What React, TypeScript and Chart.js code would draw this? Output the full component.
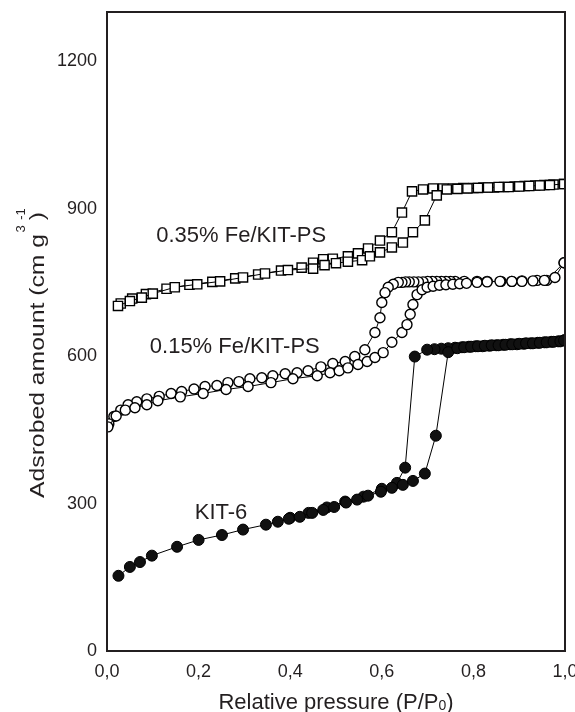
import React, { useEffect, useRef } from "react";
import { Chart, registerables } from "chart.js";

Chart.register(...registerables);

// KIT-6 (filled circles)
const kit6AdsX = [0.025, 0.05, 0.072, 0.098, 0.153, 0.2, 0.251, 0.297, 0.347, 0.373, 0.397, 0.421, 0.448, 0.472, 0.496, 0.522, 0.546, 0.57, 0.598, 0.622, 0.646, 0.668, 0.694, 0.718, 0.745, 0.765, 0.78, 0.795, 0.81, 0.825, 0.84, 0.855, 0.87, 0.885, 0.9, 0.915, 0.93, 0.945, 0.96, 0.975, 0.99, 0.998];
const kit6AdsY = [153, 171, 181, 194, 212, 226, 236, 247, 257, 263, 269, 273, 281, 287, 293, 302, 308, 316, 324, 332, 338, 346, 361, 438, 608, 616, 618, 619, 620, 621, 622, 622, 623, 624, 625, 626, 626, 627, 628, 629, 630, 632];
const kit6DesX = [0.998, 0.985, 0.97, 0.955, 0.94, 0.925, 0.91, 0.895, 0.88, 0.865, 0.85, 0.835, 0.82, 0.805, 0.79, 0.775, 0.76, 0.745, 0.73, 0.715, 0.699, 0.672, 0.651, 0.633, 0.6, 0.56, 0.52, 0.48, 0.44, 0.4];
const kit6DesY = [632, 630, 629, 628, 627, 626, 625, 624, 624, 623, 622, 621, 620, 620, 619, 618, 617, 616, 615, 614, 613, 599, 373, 342, 330, 314, 304, 292, 281, 271];

// 0.15% Fe/KIT-PS (open circles)
const fe15AdsX = [0.002, 0.02, 0.04, 0.061, 0.087, 0.111, 0.16, 0.21, 0.26, 0.308, 0.358, 0.406, 0.459, 0.487, 0.507, 0.526, 0.548, 0.568, 0.585, 0.603, 0.622, 0.644, 0.655, 0.662, 0.668, 0.677, 0.688, 0.699, 0.712, 0.726, 0.74, 0.755, 0.77, 0.785, 0.808, 0.83, 0.858, 0.884, 0.906, 0.93, 0.955, 0.978, 0.998];
const fe15AdsY = [456, 478, 490, 495, 501, 509, 517, 524, 532, 538, 546, 554, 560, 566, 570, 576, 583, 589, 597, 607, 628, 648, 664, 685, 705, 725, 735, 740, 742, 744, 745, 746, 747, 748, 750, 751, 752, 752, 752, 753, 754, 760, 790];
const fe15DesX = [0.998, 0.96, 0.939, 0.906, 0.884, 0.86, 0.83, 0.808, 0.78, 0.76, 0.75, 0.74, 0.73, 0.72, 0.71, 0.7, 0.69, 0.68, 0.67, 0.66, 0.652, 0.644, 0.636, 0.625, 0.614, 0.607, 0.6, 0.596, 0.585, 0.563, 0.541, 0.52, 0.493, 0.467, 0.439, 0.415, 0.389, 0.362, 0.338, 0.312, 0.288, 0.264, 0.24, 0.214, 0.19, 0.163, 0.14, 0.114, 0.087, 0.065, 0.046, 0.03, 0.015, 0.004];
const fe15DesY = [790, 754, 754, 753, 752, 752, 752, 752, 752, 752, 752, 752, 752, 752, 752, 752, 751, 751, 751, 751, 751, 750, 750, 746, 740, 729, 709, 678, 648, 613, 599, 589, 585, 578, 570, 566, 564, 560, 556, 554, 548, 546, 540, 538, 533, 528, 524, 518, 513, 507, 501, 490, 477, 462];

// 0.35% Fe/KIT-PS (open squares)
const fe35AdsX = [0.024, 0.05, 0.076, 0.1, 0.148, 0.197, 0.247, 0.297, 0.345, 0.395, 0.45, 0.475, 0.5, 0.526, 0.557, 0.574, 0.596, 0.622, 0.646, 0.668, 0.694, 0.72, 0.742, 0.765, 0.787, 0.81, 0.832, 0.855, 0.877, 0.9, 0.922, 0.945, 0.967, 0.998];
const fe35AdsY = [702, 712, 719, 727, 740, 746, 752, 760, 768, 775, 778, 785, 789, 792, 795, 803, 811, 821, 831, 852, 876, 927, 939, 940, 941, 942, 943, 944, 944, 945, 946, 947, 948, 950];
const fe35DesX = [0.998, 0.975, 0.955, 0.935, 0.912, 0.89, 0.867, 0.845, 0.822, 0.8, 0.778, 0.756, 0.734, 0.712, 0.69, 0.666, 0.644, 0.622, 0.596, 0.57, 0.548, 0.526, 0.493, 0.472, 0.45, 0.425, 0.38, 0.33, 0.28, 0.23, 0.18, 0.13, 0.085, 0.055, 0.03];
const fe35DesY = [950, 949, 948, 947, 946, 945, 944, 943, 943, 942, 942, 941, 941, 941, 939, 935, 892, 852, 835, 819, 809, 803, 798, 797, 790, 780, 774, 766, 758, 751, 745, 737, 726, 717, 707];

const xTicks = [0, 0.2, 0.4, 0.6, 0.8, 1.0];
const yTicks = [0, 300, 600, 900, 1200];

const seriesLabels = ["0.35% Fe/KIT-PS", "0.15% Fe/KIT-PS", "KIT-6"];
const labelX = [0.293, 0.279, 0.249];
const labelY = [845, 619, 281];

const FONT = "'Liberation Sans', Arial, Helvetica, sans-serif";
const INK = "#231f20";

const pts = (xs: number[], ys: number[]) => xs.map((x, i) => ({ x, y: ys[i] }));

const overlay = {
  id: "overlay",
  afterDraw(chart: any) {
    const ctx = chart.ctx as CanvasRenderingContext2D;
    const a = chart.chartArea;
    const xs = chart.scales.x;
    const ys = chart.scales.y;
    ctx.save();
    // frame
    ctx.strokeStyle = INK;
    ctx.lineWidth = 2;
    ctx.strokeRect(a.left, a.top, a.right - a.left, a.bottom - a.top);

    // series labels
    ctx.fillStyle = INK;
    ctx.font = `22px ${FONT}`;
    ctx.textAlign = "center";
    ctx.textBaseline = "middle";
    seriesLabels.forEach((t, i) => {
      ctx.fillText(t, xs.getPixelForValue(labelX[i]), ys.getPixelForValue(labelY[i]));
    });

    // x title
    const cx = (a.left + a.right) / 2;
    const base = 709;
    ctx.textBaseline = "alphabetic";
    ctx.textAlign = "left";
    ctx.font = `22px ${FONT}`;
    const p1 = "Relative pressure (P/P";
    const p3 = ")";
    const w1 = ctx.measureText(p1).width;
    const w3 = ctx.measureText(p3).width;
    ctx.font = `14px ${FONT}`;
    const w2 = ctx.measureText("0").width;
    const total = w1 + w2 + w3;
    const sx = cx - total / 2;
    ctx.font = `22px ${FONT}`;
    ctx.fillText(p1, sx, base);
    ctx.font = `14px ${FONT}`;
    ctx.fillText("0", sx + w1, base + 1);
    ctx.font = `22px ${FONT}`;
    ctx.fillText(p3, sx + w1 + w2, base);

    // y title (rotated)
    const yStart = 498;
    const yEnd = 212;
    ctx.save();
    ctx.translate(44, yStart);
    ctx.rotate(-Math.PI / 2);
    ctx.font = `21px ${FONT}`;
    const main = "Adsrobed amount (cm g  )";
    const mw = ctx.measureText(main).width;
    const scaleF = (yStart - yEnd) / mw;
    ctx.save();
    ctx.scale(scaleF, 1);
    ctx.fillText(main, 0, 0);
    ctx.restore();
    ctx.font = `13px ${FONT}`;
    ctx.textAlign = "center";
    ctx.fillText("3", yStart - 229, -19);
    ctx.fillText("-1", yStart - 214, -19);
    ctx.restore();

    ctx.restore();
  },
};

export default function App() {
  const ref = useRef<HTMLCanvasElement | null>(null);
  useEffect(() => {
    if (!ref.current) return;
    const common = { showLine: true, borderColor: "#000", borderWidth: 1, pointBorderColor: "#000" };
    const chart = new Chart(ref.current, {
      type: "scatter",
      data: {
        datasets: [
          { ...common, label: "0.35% ads", data: pts(fe35AdsX, fe35AdsY), pointStyle: "rect", pointRadius: 6.5, pointBackgroundColor: "#fff", pointBorderWidth: 1.4 },
          { ...common, label: "0.35% des", data: pts(fe35DesX, fe35DesY), pointStyle: "rect", pointRadius: 6.5, pointBackgroundColor: "#fff", pointBorderWidth: 1.4 },
          { ...common, label: "0.15% ads", data: pts(fe15AdsX, fe15AdsY), pointStyle: "circle", pointRadius: 5, pointBackgroundColor: "#fff", pointBorderWidth: 1.4 },
          { ...common, label: "0.15% des", data: pts(fe15DesX, fe15DesY), pointStyle: "circle", pointRadius: 5, pointBackgroundColor: "#fff", pointBorderWidth: 1.4 },
          { ...common, label: "KIT-6 ads", data: pts(kit6AdsX, kit6AdsY), pointStyle: "circle", pointRadius: 5.5, pointBackgroundColor: "#111", pointBorderWidth: 1 },
          { ...common, label: "KIT-6 des", data: pts(kit6DesX, kit6DesY), pointStyle: "circle", pointRadius: 5.5, pointBackgroundColor: "#111", pointBorderWidth: 1 },
        ],
      },
      options: {
        responsive: false,
        animation: false,
        layout: { padding: { top: 12, right: 10, left: 0, bottom: 0 } },
        plugins: { legend: { display: false }, tooltip: { enabled: false } },
        scales: {
          x: {
            type: "linear",
            min: 0,
            max: 1,
            afterFit: (s: any) => { s.height = 61; s.paddingLeft = 0; s.paddingRight = 0; },
            afterBuildTicks: (s: any) => { s.ticks = xTicks.map((v) => ({ value: v })); },
            grid: { display: false, drawTicks: false },
            border: { display: false },
            ticks: {
              padding: 10,
              color: INK,
              font: { family: FONT, size: 18 },
              callback: (v: any) => Number(v).toFixed(1).replace(".", ","),
            },
          },
          y: {
            type: "linear",
            min: 0,
            max: 1300,
            afterFit: (s: any) => { s.width = 107; s.paddingTop = 0; s.paddingBottom = 0; },
            afterBuildTicks: (s: any) => { s.ticks = yTicks.map((v) => ({ value: v })); },
            grid: { display: false, drawTicks: false },
            border: { display: false },
            ticks: {
              padding: 10,
              color: INK,
              font: { family: FONT, size: 18 },
              callback: (v: any) => String(v),
            },
          },
        },
      },
      plugins: [overlay],
    });
    return () => chart.destroy();
  }, []);
  return (
    <div style={{ position: "fixed", left: 0, top: 0, width: 575, height: 712, background: "#fff" }}>
      <canvas ref={ref} width={575} height={712} style={{ display: "block" }} />
    </div>
  );
}
